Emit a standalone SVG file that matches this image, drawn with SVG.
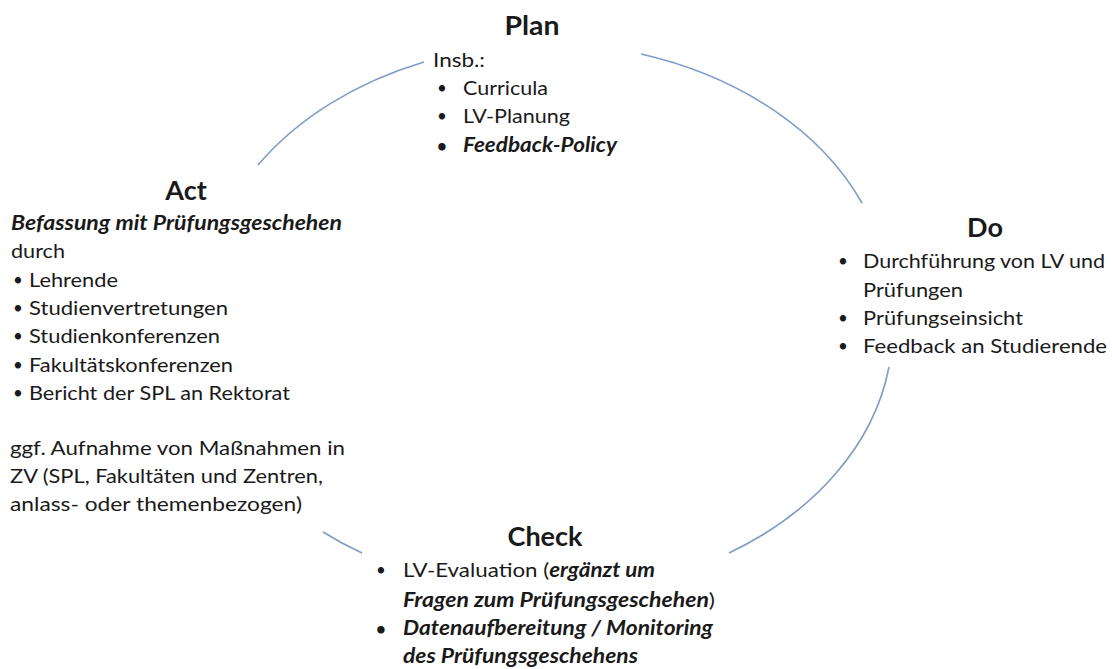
<svg xmlns="http://www.w3.org/2000/svg" width="1112" height="669" viewBox="0 0 1112 669">
<style>
text{font-family:Lato,"Liberation Sans",sans-serif;fill:#1a1a1a;font-size:20px}
.t{font-size:27px;font-weight:bold;text-anchor:middle}
.bi{font-weight:bold;font-style:italic}
.b{font-size:17px}
.arc{fill:none;stroke:#7f9cc8;stroke-width:1.6}
</style>
<rect width="1112" height="669" fill="#ffffff"/>
<g id="connectors">
<path class="arc" d="M258,165 A350,265 0 0 1 424,62"/>
<path class="arc" d="M641,54 A350,265 0 0 1 862,203"/>
<path class="arc" d="M889,367 A350,265 0 0 1 729,553"/>
<path class="arc" d="M362,553 A350,265 0 0 1 323,532"/>
</g>
<g id="plan">
<text class="t" x="532" y="35" textLength="55" lengthAdjust="spacingAndGlyphs">Plan</text>
<text x="433" y="67" textLength="52" lengthAdjust="spacingAndGlyphs">Insb.:</text>
<text class="b" x="437" y="94">•</text><text x="463" y="95" textLength="85" lengthAdjust="spacingAndGlyphs">Curricula</text>
<text class="b" x="437" y="122">•</text><text x="463" y="123" textLength="107" lengthAdjust="spacingAndGlyphs">LV-Planung</text>
<text x="437" y="152" class="bi b">•</text><text x="463" y="152" class="bi" textLength="154" lengthAdjust="spacingAndGlyphs">Feedback-Policy</text>
</g>
<g id="do">
<text class="t" x="985" y="237">Do</text>
<text class="b" x="838" y="267">•</text><text x="863" y="268" textLength="242" lengthAdjust="spacingAndGlyphs">Durchführung von LV und</text>
<text x="863" y="297" textLength="100" lengthAdjust="spacingAndGlyphs">Prüfungen</text>
<text class="b" x="838" y="324">•</text><text x="863" y="325" textLength="160" lengthAdjust="spacingAndGlyphs">Prüfungseinsicht</text>
<text class="b" x="838" y="352">•</text><text x="863" y="353" textLength="244" lengthAdjust="spacingAndGlyphs">Feedback an Studierende</text>
</g>
<g id="check">
<text class="t" x="545" y="546">Check</text>
<text class="b" x="376" y="576">•</text><text x="403" y="577" textLength="252" lengthAdjust="spacingAndGlyphs">LV-Evaluation (<tspan class="bi">ergänzt um</tspan></text>
<text x="403" y="607" textLength="312" lengthAdjust="spacingAndGlyphs"><tspan class="bi">Fragen zum Prüfungsgeschehen</tspan>)</text>
<text x="376" y="635" class="bi b">•</text><text x="403" y="635" class="bi" textLength="310" lengthAdjust="spacingAndGlyphs">Datenaufbereitung / Monitoring</text>
<text x="403" y="663" class="bi" textLength="235" lengthAdjust="spacingAndGlyphs">des Prüfungsgeschehens</text>
</g>
<g id="act">
<text class="t" x="186" y="200">Act</text>
<text x="11" y="230" class="bi" textLength="331" lengthAdjust="spacingAndGlyphs">Befassung mit Prüfungsgeschehen</text>
<text x="11" y="258" textLength="54" lengthAdjust="spacingAndGlyphs">durch</text>
<text class="b" x="13" y="286">•</text><text x="29" y="287" textLength="89" lengthAdjust="spacingAndGlyphs">Lehrende</text>
<text class="b" x="13" y="314">•</text><text x="29" y="315" textLength="199" lengthAdjust="spacingAndGlyphs">Studienvertretungen</text>
<text class="b" x="13" y="342">•</text><text x="29" y="343" textLength="191" lengthAdjust="spacingAndGlyphs">Studienkonferenzen</text>
<text class="b" x="13" y="371">•</text><text x="29" y="372" textLength="204" lengthAdjust="spacingAndGlyphs">Fakultätskonferenzen</text>
<text class="b" x="13" y="399">•</text><text x="29" y="400" textLength="261" lengthAdjust="spacingAndGlyphs">Bericht der SPL an Rektorat</text>
<text x="10" y="455" textLength="335" lengthAdjust="spacingAndGlyphs">ggf. Aufnahme von Maßnahmen in</text>
<text x="10" y="483" textLength="313" lengthAdjust="spacingAndGlyphs">ZV (SPL, Fakultäten und Zentren,</text>
<text x="10" y="511" textLength="292" lengthAdjust="spacingAndGlyphs">anlass-  oder themenbezogen)</text>
</g>
</svg>
